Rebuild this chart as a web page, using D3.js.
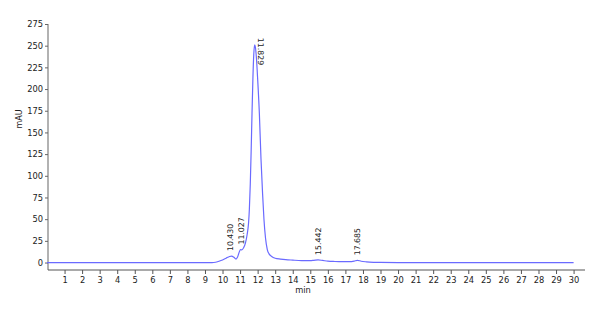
<!DOCTYPE html>
<html>
<head>
<meta charset="utf-8">
<script src="https://cdn.jsdelivr.net/npm/d3@7"></script>
<style>
  body { margin: 0; background: #fff; }
  text { font-family: "DejaVu Sans", Verdana, sans-serif; }
</style>
</head>
<body>
<div id="chart"></div>
<script>
// chromatogram trace (min, mAU)
const times = [0, 5, 9.0, 9.4, 9.6, 9.8, 10.0, 10.2, 10.4, 10.52, 10.65, 10.77, 10.85, 10.95, 11.027,
  11.1, 11.2, 11.3, 11.4, 11.48, 11.53, 11.58, 11.63, 11.68, 11.73, 11.78, 11.829, 11.88, 11.93,
  12.0, 12.1, 12.19, 12.28, 12.36, 12.45, 12.55, 12.65, 12.8, 13.0, 13.3, 13.6, 14.0, 14.5, 15.0,
  15.2, 15.442, 15.7, 16.0, 16.4, 16.8, 17.2, 17.5, 17.685, 17.9, 18.2, 18.6, 19.0, 20.0, 25, 30];
const mau = [0, 0, 0, 0, 0.3, 1.5, 3, 5, 7, 7.5, 6, 4, 6, 12, 15,
  14.5, 17, 22, 32, 45, 62, 90, 128, 172, 212, 240, 251, 247, 236,
  212, 171, 120, 80, 50, 28, 15, 10, 7, 5, 4, 3.3, 2.8, 2.3, 2.2,
  2.5, 3, 2.4, 1.6, 1.2, 1, 1, 1.6, 2.6, 1.5, 0.8, 0.3, 0.1, 0, 0, 0];

// labelled peaks
const peakTimes = [10.430, 11.027, 11.829, 15.442, 17.685];
const peakLabels = ["10.430", "11.027", "11.829", "15.442", "17.685"];
const peakHeights = [7.5, 15, 251, 3, 2.6];

const xTicks = d3.range(1, 31);
const yTicks = [0, 25, 50, 75, 100, 125, 150, 175, 200, 225, 250, 275];

const width = 600, height = 314;

const svg = d3.select("#chart").append("svg")
  .attr("width", width)
  .attr("height", height);

const x = d3.scaleLinear().domain([0, 30.65]).range([47, 585]);
const y = d3.scaleLinear().domain([-8.6, 275]).range([270, 24]);

// y axis
const yAxis = svg.append("g")
  .attr("transform", "translate(48,0)")
  .call(d3.axisLeft(y).tickValues(yTicks).tickSize(3).tickPadding(2));
yAxis.select(".domain").attr("d", `M0,${y(275)}V270`).attr("stroke", "#999").attr("stroke-width", 1.5);
yAxis.selectAll(".tick line").attr("stroke", "#666");
yAxis.selectAll("text").style("font-size", "8.3px").attr("fill", "#222");

// x axis
const xAxis = svg.append("g")
  .attr("transform", "translate(0,270)")
  .call(d3.axisBottom(x).tickValues(xTicks).tickSize(4).tickPadding(3));
xAxis.select(".domain").attr("d", "M48,0H585").attr("stroke", "#555");
xAxis.selectAll(".tick line").attr("stroke", "#555");
xAxis.selectAll("text").style("font-size", "8.3px").attr("fill", "#222");

// axis titles
svg.append("text")
  .attr("transform", "translate(22,119) rotate(-90)")
  .attr("text-anchor", "middle")
  .style("font-size", "8px")
  .attr("fill", "#222")
  .text("mAU");

svg.append("text")
  .attr("x", 303).attr("y", 293)
  .attr("text-anchor", "middle")
  .style("font-size", "8.3px")
  .attr("fill", "#222")
  .text("min");

// trace
const line = d3.line()
  .x((d, i) => x(times[i]))
  .y(d => y(d))
  .curve(d3.curveMonotoneX);

svg.append("path")
  .datum(mau)
  .attr("d", line)
  .attr("fill", "none")
  .attr("stroke", "#6a6aff")
  .attr("stroke-width", 1.2);

// peak labels
peakTimes.forEach((t, i) => {
  const px = x(t), py = y(peakHeights[i]);
  const isMain = peakHeights[i] > 200;
  svg.append("text")
    .attr("transform", isMain
      ? `translate(${px + 3},${py - 7}) rotate(90)`
      : `translate(${px + 3},${py - 5}) rotate(-90)`)
    .attr("text-anchor", "start")
    .style("font-size", "7.8px")
    .attr("fill", "#222")
    .text(peakLabels[i]);
});
</script>
</body>
</html>
